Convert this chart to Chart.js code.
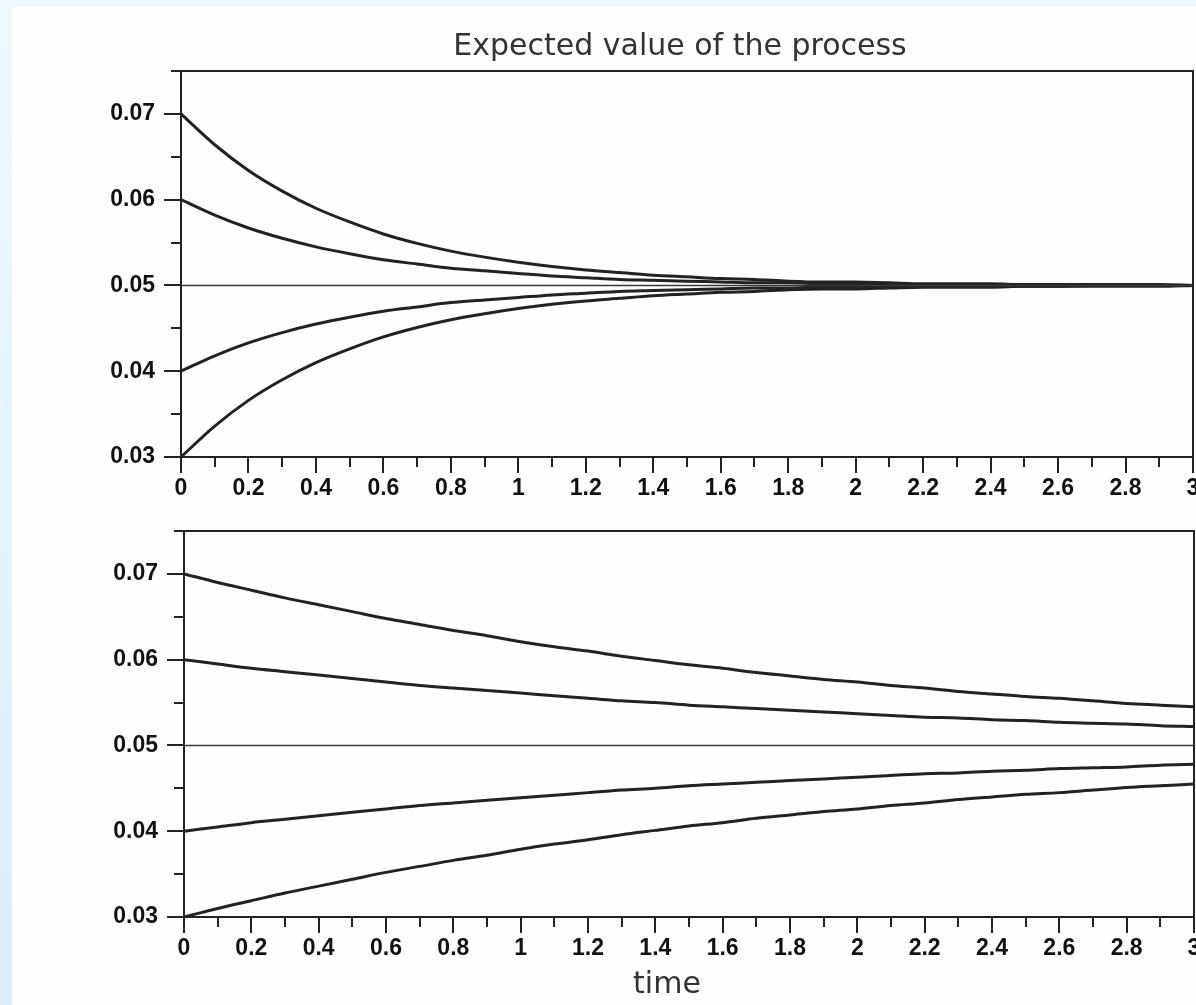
<!DOCTYPE html>
<html><head><meta charset="utf-8">
<script src="https://cdn.jsdelivr.net/npm/chart.js@4.4.1/dist/chart.umd.min.js"></script>
<style>
html,body{margin:0;padding:0;width:1196px;height:1005px;overflow:hidden;background:linear-gradient(to bottom,#eff8fe,#dceefb);}
#panel{position:absolute;left:12px;top:7px;width:1184px;height:998px;background:#fefefe;}
canvas{position:absolute;left:0;}
#c1{top:0;} #c2{top:520px;}
</style></head><body>
<div id="panel"></div>
<canvas id="c1" width="1360" height="520"></canvas>
<canvas id="c2" width="1334" height="485"></canvas>
<script>
// ---- data ----
const time = [0,0.1,0.2,0.3,0.4,0.5,0.6,0.7,0.8,0.9,1.0,1.1,1.2,1.3,1.4,1.5,1.6,1.7,1.8,1.9,2.0,2.1,2.2,2.3,2.4,2.5,2.6,2.7,2.8,2.9,3.0];
const xTicks = [0,0.2,0.4,0.6,0.8,1,1.2,1.4,1.6,1.8,2,2.2,2.4,2.6,2.8,3];
const xMinorTicks = [0.1,0.3,0.5,0.7,0.9,1.1,1.3,1.5,1.7,1.9,2.1,2.3,2.5,2.7,2.9];
const yTicks = [0.03,0.04,0.05,0.06,0.07];
const yMinorTicks = [0.035,0.045,0.055,0.065,0.075];

// top panel (fast reversion)
const fast007 = [0.0700,0.0664,0.0634,0.0610,0.0590,0.0574,0.0560,0.0549,0.0540,0.0533,0.0527,0.0522,0.0518,0.0515,0.0512,0.0510,0.0508,0.0507,0.0505,0.0504,0.0504,0.0503,0.0502,0.0502,0.0502,0.0501,0.0501,0.0501,0.0501,0.0501,0.0500];
const fast006 = [0.0600,0.0582,0.0567,0.0555,0.0545,0.0537,0.0530,0.0525,0.0520,0.0517,0.0514,0.0511,0.0509,0.0507,0.0506,0.0505,0.0504,0.0503,0.0503,0.0502,0.0502,0.0502,0.0501,0.0501,0.0501,0.0501,0.0501,0.0500,0.0500,0.0500,0.0500];
const fast004 = [0.0400,0.0418,0.0433,0.0445,0.0455,0.0463,0.0470,0.0475,0.0480,0.0483,0.0486,0.0489,0.0491,0.0493,0.0494,0.0495,0.0496,0.0497,0.0497,0.0498,0.0498,0.0498,0.0499,0.0499,0.0499,0.0499,0.0499,0.0500,0.0500,0.0500,0.0500];
const fast003 = [0.0300,0.0336,0.0366,0.0390,0.0410,0.0426,0.0440,0.0451,0.0460,0.0467,0.0473,0.0478,0.0482,0.0485,0.0488,0.0490,0.0492,0.0493,0.0495,0.0496,0.0496,0.0497,0.0498,0.0498,0.0498,0.0499,0.0499,0.0499,0.0499,0.0499,0.0500];

// bottom panel (slow reversion)
const slow007 = [0.0700,0.0690,0.0681,0.0672,0.0664,0.0656,0.0648,0.0641,0.0634,0.0628,0.0621,0.0615,0.0610,0.0604,0.0599,0.0594,0.0590,0.0585,0.0581,0.0577,0.0574,0.0570,0.0567,0.0563,0.0560,0.0557,0.0555,0.0552,0.0549,0.0547,0.0545];
const slow006 = [0.0600,0.0595,0.0590,0.0586,0.0582,0.0578,0.0574,0.0570,0.0567,0.0564,0.0561,0.0558,0.0555,0.0552,0.0550,0.0547,0.0545,0.0543,0.0541,0.0539,0.0537,0.0535,0.0533,0.0532,0.0530,0.0529,0.0527,0.0526,0.0525,0.0523,0.0522];
const slow004 = [0.0400,0.0405,0.0410,0.0414,0.0418,0.0422,0.0426,0.0430,0.0433,0.0436,0.0439,0.0442,0.0445,0.0448,0.0450,0.0453,0.0455,0.0457,0.0459,0.0461,0.0463,0.0465,0.0467,0.0468,0.0470,0.0471,0.0473,0.0474,0.0475,0.0477,0.0478];
const slow003 = [0.0300,0.0310,0.0319,0.0328,0.0336,0.0344,0.0352,0.0359,0.0366,0.0372,0.0379,0.0385,0.0390,0.0396,0.0401,0.0406,0.0410,0.0415,0.0419,0.0423,0.0426,0.0430,0.0433,0.0437,0.0440,0.0443,0.0445,0.0448,0.0451,0.0453,0.0455];

const meanTime = [0,3];
const meanLevel = [0.05,0.05];

// ---- helpers ----
const INK = '#222222';
function curve(values){
  return {data: time.map((t,i)=>({x:t,y:values[i]})), borderColor: INK, borderWidth: 3, pointRadius:0,
          cubicInterpolationMode:'monotone', fill:false};
}
function meanLine(){
  return {data: meanTime.map((t,i)=>({x:t,y:meanLevel[i]})), borderColor:'#3a3a3a', borderWidth:1.6, pointRadius:0, tension:0, fill:false};
}
const framePlugin = {
  id:'frame',
  afterDraw(chart){
    const {ctx, chartArea:a, scales:{x,y}} = chart;
    const L=Math.round(a.left), R=Math.round(a.right), T=Math.round(a.top), B=Math.round(a.bottom);
    ctx.save();
    ctx.strokeStyle = INK; ctx.lineWidth = 2;
    ctx.strokeRect(L, T, R-L, B-T);
    ctx.beginPath();
    xMinorTicks.forEach(v=>{ const px=Math.round(x.getPixelForValue(v)); ctx.moveTo(px,B); ctx.lineTo(px,B+10); });
    yMinorTicks.forEach(v=>{ const py=Math.round(y.getPixelForValue(v)); ctx.moveTo(L-10,py); ctx.lineTo(L,py); });
    ctx.stroke();
    ctx.restore();
  }
};
const tickFont = {family:'Liberation Sans', weight:'bold', size:23, lineHeight:1.2};
function makeOptions(cfg){
  return {
    responsive:false, animation:false, devicePixelRatio:1,
    layout:{padding:{top:cfg.padTop, left:0, right:0, bottom:0}},
    plugins:{
      legend:{display:false}, tooltip:{enabled:false},
      title: cfg.title
    },
    scales:{
      x:{type:'linear', min:0, max:3,
        afterBuildTicks: s => { s.ticks = xTicks.map(v=>({value:v})); },
        afterFit: s => { s.height = cfg.xHeight; s.paddingLeft = 0; s.paddingRight = cfg.rightGap; },
        grid:{display:true, drawOnChartArea:false, drawTicks:true, tickLength:16, color:INK, lineWidth:2},
        border:{display:true, color:INK, width:2},
        ticks:{autoSkip:false, maxRotation:0, minRotation:0, padding:2, color:'#111', font:tickFont,
          callback: v => String(Math.round(v*10)/10)}
      },
      y:{type:'linear', min:0.03, max:0.075,
        afterBuildTicks: s => { s.ticks = yTicks.map(v=>({value:v})); },
        afterFit: s => { s.width = cfg.yWidth; s.paddingTop = 0; s.paddingBottom = 0; },
        grid:{display:true, drawOnChartArea:false, drawTicks:true, tickLength:17, color:INK, lineWidth:2},
        border:{display:true, color:INK, width:2},
        ticks:{padding:9, color:'#111', font:tickFont, callback: v => Number(v).toFixed(2)}
      }
    }
  };
}
const titleFont = {family:'DejaVu Sans', size:30, weight:'normal', lineHeight:1.2};

new Chart(document.getElementById('c1'), {
  type:'line',
  data:{datasets:[meanLine(), curve(fast007), curve(fast006), curve(fast004), curve(fast003)]},
  options: makeOptions({
    padTop:0, xHeight:63, yWidth:181, rightGap:167,
    title:{display:true, text:'Expected value of the process', color:'#333', font:titleFont, padding:{top:29, bottom:6}}
  }),
  plugins:[framePlugin]
});

new Chart(document.getElementById('c2'), {
  type:'line',
  data:{datasets:[meanLine(), curve(slow007), curve(slow006), curve(slow004), curve(slow003)]},
  options: makeOptions({
    padTop:11, xHeight:50, yWidth:184, rightGap:140,
    title:{display:true, position:'bottom', text:'time', color:'#333', font:titleFont, padding:{top:0, bottom:2}}
  }),
  plugins:[framePlugin]
});
</script>
</body></html>
